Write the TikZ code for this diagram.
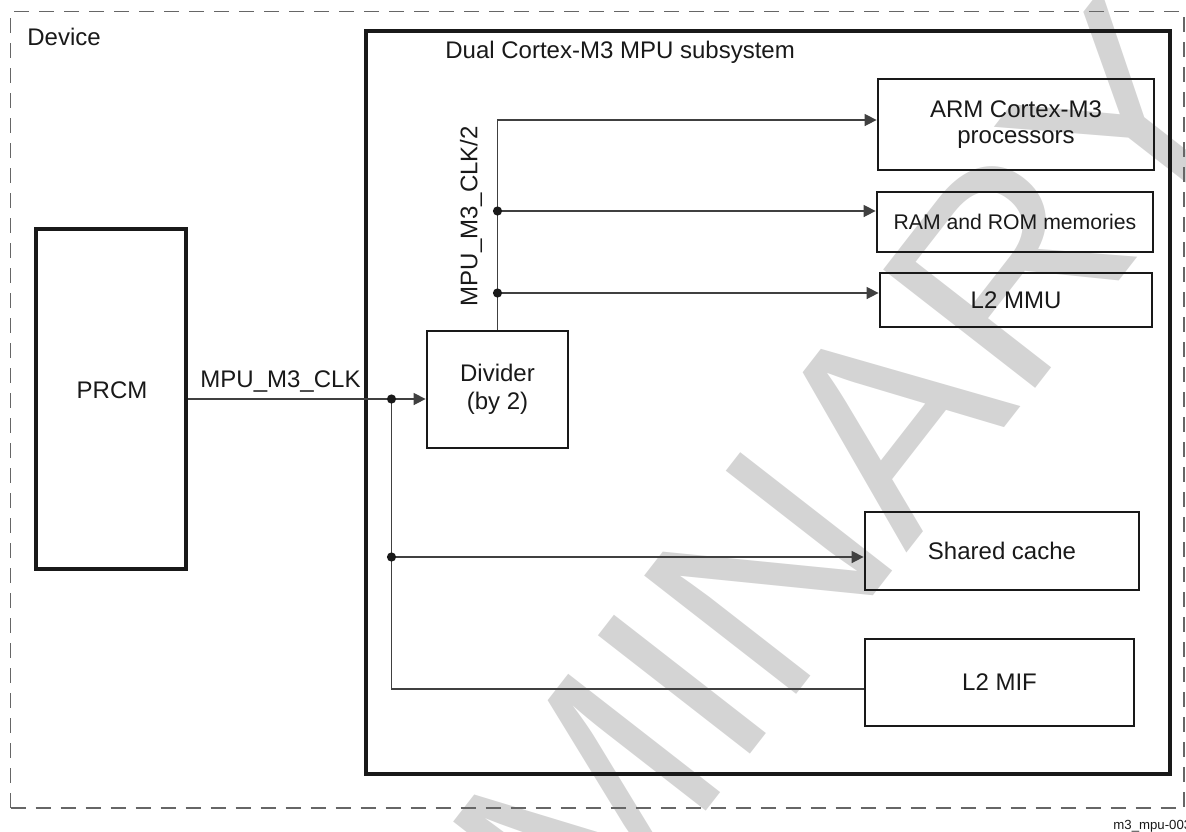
\documentclass[tikz,border=0pt]{standalone}
\usepackage{fontspec}
\setmainfont{Liberation Sans}
\usetikzlibrary{arrows.meta}

\begin{document}
\begin{tikzpicture}[x=0.5pt,y=-0.5pt,
    font=\fontsize{12}{14}\selectfont,text=black!90,
    box/.style={draw=black!90,line width=1.4pt,inner sep=0pt,align=center},
    bigbox/.style={draw=black!90,line width=2pt,inner sep=0pt},
    wire/.style={black!75,line width=0.75pt},
    clk/.style={wire,-{Triangle[length=6pt,width=6pt]}}]
  \useasboundingbox (0,0) rectangle (1186,831);
  % the grey stamp lies under the whole drawing
  \node[rotate=52.1,anchor=base,inner sep=0pt,text=black!17,
        font=\fontsize{140}{140}\selectfont] (stamp) at (676,850) {PRELIMINARY};
  % frames
  \node[draw=black!60,line width=0.7pt,dash pattern=on 7.5pt off 5pt,
        minimum width=586.75pt,minimum height=398.25pt] (device) at (597.25,409.75) {};
  \node[bigbox,minimum width=402pt,minimum height=371.5pt] (subsys) at (768,402.5) {};
  \node[inner sep=0pt,anchor=west] (devlabel) at (27,37) {Device};
  \node[inner sep=0pt,anchor=west] (sublabel) at (445,52) {Dual Cortex-M3 MPU subsystem};
  % blocks
  \node[bigbox,minimum width=75pt,minimum height=170pt] (prcm) at (111,399) {};
  \node[inner sep=0pt] (prcmlabel) at (112,390) {PRCM};
  \node[box,minimum width=70.5pt,minimum height=58.5pt] (divider) at (497.5,389.5) {Divider\\(by 2)};
  \node[box,minimum width=138pt,minimum height=45.5pt,
        font=\fontsize{12}{13}\selectfont] (arm) at (1016,124.5) {ARM Cortex-M3\\processors};
  \node[box,minimum width=138pt,minimum height=30pt,
        font=\fontsize{10.6}{12}\selectfont] (mem) at (1015,222) {RAM and ROM memories};
  \node[box,minimum width=136pt,minimum height=27pt] (mmu) at (1016,300) {L2 MMU};
  \node[box,minimum width=137pt,minimum height=39pt] (cache) at (1002,551) {Shared cache};
  \node[box,minimum width=134.5pt,minimum height=43.5pt] (mif) at (999.5,682.5) {L2 MIF};
  % taps on the clock lines
  \coordinate (split) at (391.5,399);
  \coordinate (tapc) at (391.5,557);
  \coordinate (tapm) at (497.5,211);
  \coordinate (tapu) at (497.5,293);
  % clock lines
  \draw[clk] (prcm.east) -- (prcm.east -| divider.west);
  \draw[wire] (split) |- ([yshift=-3.25pt]mif.west);
  \draw[clk] (tapc) -- (tapc -| cache.west);
  \draw[clk] (divider.north) |- ([yshift=2.25pt]arm.west);
  \draw[clk] (tapm) -- (tapm -| mem.west);
  \draw[clk] (tapu) -- (tapu -| mmu.west);
  \foreach \p in {split,tapc,tapm,tapu}
    \fill[black!90] (\p) circle[radius=2.3pt];
  \node[inner sep=0pt] (clklabel) at (280.5,381) {MPU\_M3\_CLK};
  \node[inner sep=0pt,rotate=90] (halflabel) at (471,216) {MPU\_M3\_CLK/2};
  \node[inner sep=0pt,anchor=base west,font=\fontsize{6.6}{7}\selectfont] (figid) at (1113,829) {m3\_mpu-003};
\end{tikzpicture}
\end{document}
